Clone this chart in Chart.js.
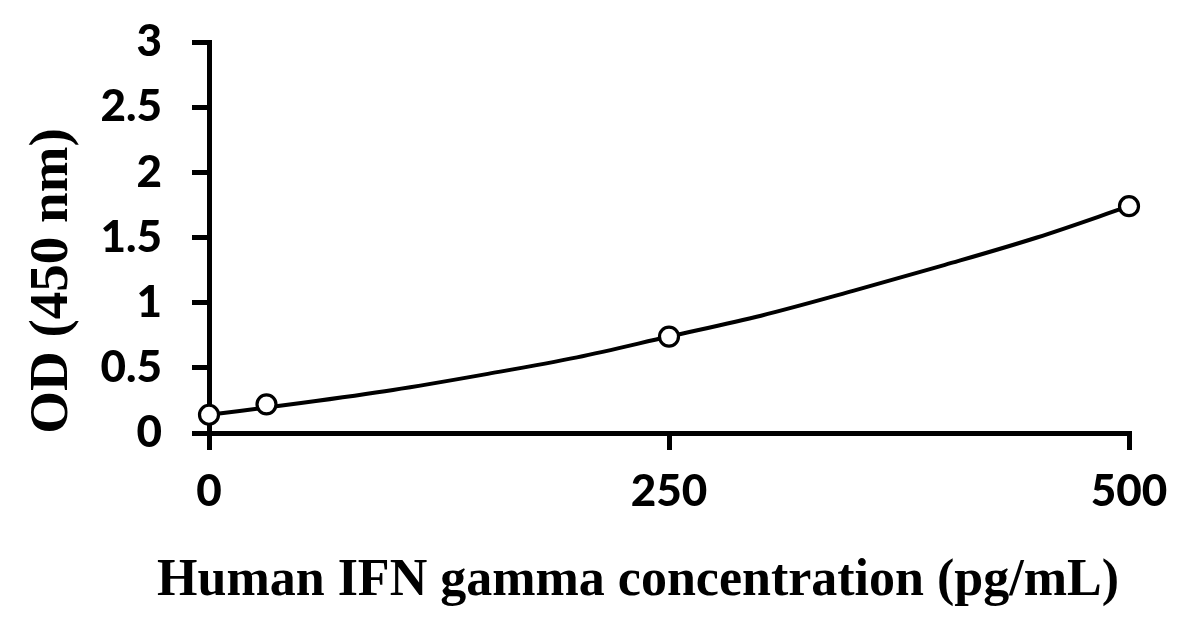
<!DOCTYPE html>
<html>
<head>
<meta charset="utf-8">
<script src="https://cdn.jsdelivr.net/npm/chart.js@4.4.1/dist/chart.umd.min.js"></script>
<style>
  html, body { margin: 0; padding: 0; background: #ffffff; }
  #wrap { width: 1191px; height: 638px; position: relative; }
</style>
</head>
<body>
<div id="wrap"><canvas id="c" width="1191" height="638"></canvas></div>
<script>
// Measured standards (concentration pg/mL, OD 450 nm)
const concentrations = [0, 31.25, 250, 500];
const odValues = [0.14, 0.22, 0.74, 1.74];

// Fitted curve at regular x positions
const curveX = [0, 50, 100, 150, 200, 250, 300, 350, 400, 450, 500];
const curveY = [0.14, 0.23, 0.33, 0.45, 0.58, 0.74, 0.90, 1.09, 1.29, 1.50, 1.74];

// Tick labels
const xTickValues = [0, 250, 500];
const yTickValues = [0, 0.5, 1, 1.5, 2, 2.5, 3];
const yTickLabels = ['0', '0.5', '1', '1.5', '2', '2.5', '3'];

const xTitle = 'Human IFN gamma concentration (pg/mL)';
const yTitle = 'OD (450 nm)';

const pointData = concentrations.map((x, i) => ({ x: x, y: odValues[i] }));
const curveData = curveX.map((x, i) => ({ x: x, y: curveY[i] }));

const axisTitlePlugin = {
  id: 'axisTitles',
  afterDraw(chart) {
    const ctx = chart.ctx;
    ctx.save();
    ctx.fillStyle = '#000';
    ctx.textAlign = 'center';
    ctx.textBaseline = 'middle';
    ctx.font = 'bold 52px "Liberation Serif"';
    ctx.fillText(xTitle, 638, 582);
    ctx.translate(53, 281);
    ctx.rotate(-Math.PI / 2);
    ctx.font = 'bold 55px "Liberation Serif"';
    ctx.fillText(yTitle, 0, 0);
    ctx.restore();
  }
};

new Chart(document.getElementById('c'), {
  type: 'scatter',
  data: {
    datasets: [
      {
        label: 'Standards',
        data: pointData,
        showLine: false,
        pointStyle: 'circle',
        pointRadius: 9.5,
        pointBorderWidth: 3.2,
        pointBorderColor: '#000',
        pointBackgroundColor: '#fff',
        clip: false,
        order: 0
      },
      {
        label: 'Fit',
        data: curveData,
        showLine: true,
        borderColor: '#000',
        borderWidth: 4,
        pointRadius: 0,
        tension: 0.4,
        cubicInterpolationMode: 'monotone',
        fill: false,
        clip: false,
        order: 1
      }
    ]
  },
  options: {
    responsive: false,
    animation: false,
    devicePixelRatio: 1,
    layout: { autoPadding: false, padding: { top: 42, right: 62, left: 0, bottom: 0 } },
    plugins: { legend: { display: false }, tooltip: { enabled: false }, title: { display: false } },
    scales: {
      x: {
        type: 'linear',
        min: 0,
        max: 500,
        afterFit(scale) { scale.height = 205; scale.paddingLeft = 0; scale.paddingRight = 0; },
        afterBuildTicks(scale) { scale.ticks = xTickValues.map(v => ({ value: v })); },
        grid: { display: true, drawOnChartArea: false, drawTicks: true, tickLength: 17, lineWidth: 5, color: '#000' },
        border: { display: true, width: 5, color: '#000' },
        ticks: {
          color: '#000',
          font: { family: 'Lato', weight: '900', size: 44 },
          padding: 15,
          maxRotation: 0,
          autoSkip: false,
          callback: (v) => String(v)
        }
      },
      y: {
        type: 'linear',
        min: 0,
        max: 3,
        afterFit(scale) { scale.width = 209; scale.paddingTop = 0; scale.paddingBottom = 0; },
        afterBuildTicks(scale) { scale.ticks = yTickValues.map(v => ({ value: v })); },
        grid: { display: true, drawOnChartArea: false, drawTicks: true, tickLength: 17, lineWidth: 5, color: '#000' },
        border: { display: true, width: 5, color: '#000' },
        ticks: {
          color: '#000',
          font: { family: 'Lato', weight: '900', size: 44 },
          padding: 30,
          autoSkip: false,
          callback: (v) => { const i = yTickValues.indexOf(v); return i >= 0 ? yTickLabels[i] : ''; }
        }
      }
    }
  },
  plugins: [axisTitlePlugin]
});
</script>
</body>
</html>
